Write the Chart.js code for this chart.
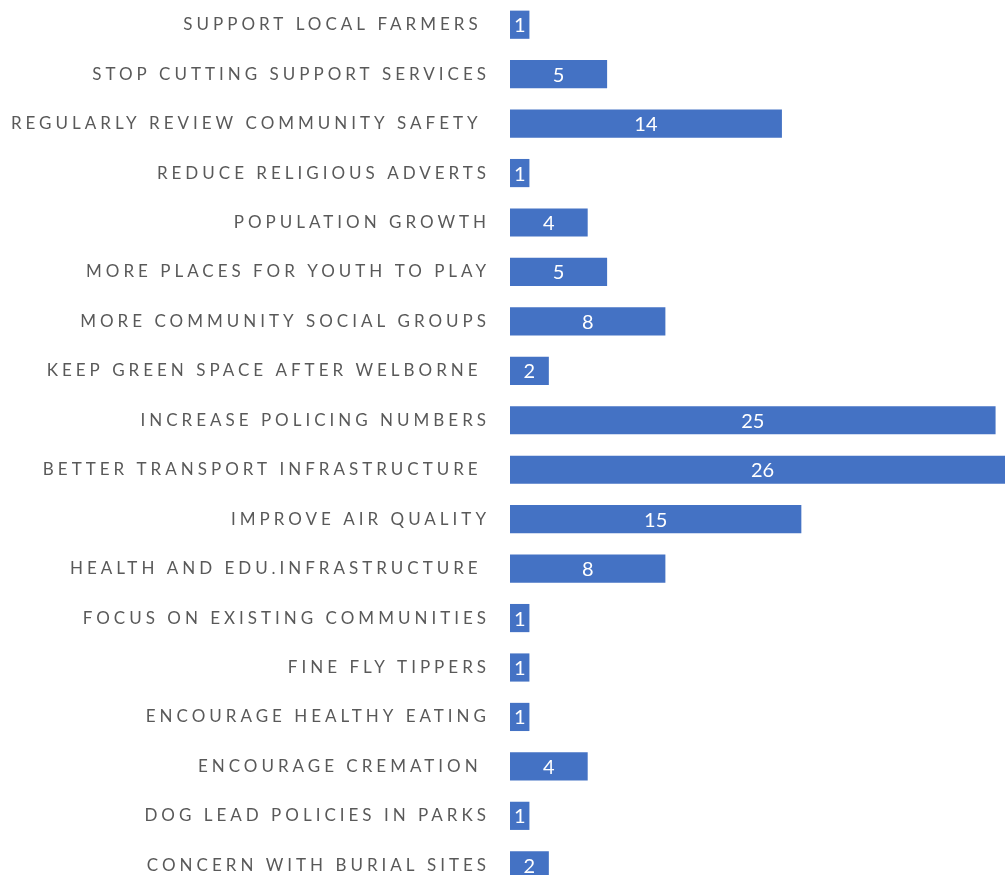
<!DOCTYPE html>
<html>
<head>
<meta charset="utf-8">
<script src="https://cdn.jsdelivr.net/npm/chart.js@4"></script>
<style>
  html, body { margin: 0; padding: 0; background: #fff; overflow: hidden; }
  #wrap { width: 1015px; height: 890px; position: relative; }
</style>
</head>
<body>
<div id="wrap"><canvas id="myChart"></canvas></div>
<script>
// categories top to bottom (trailing spaces kept as in the source sheet)
const categories = [
    "SUPPORT LOCAL FARMERS ",
    "STOP CUTTING SUPPORT SERVICES",
    "REGULARLY REVIEW COMMUNITY SAFETY ",
    "REDUCE RELIGIOUS ADVERTS",
    "POPULATION GROWTH",
    "MORE PLACES FOR YOUTH TO PLAY",
    "MORE COMMUNITY SOCIAL GROUPS",
    "KEEP GREEN SPACE AFTER WELBORNE ",
    "INCREASE POLICING NUMBERS",
    "BETTER TRANSPORT INFRASTRUCTURE ",
    "IMPROVE AIR QUALITY",
    "HEALTH AND EDU.INFRASTRUCTURE ",
    "FOCUS ON EXISTING COMMUNITIES",
    "FINE FLY TIPPERS",
    "ENCOURAGE HEALTHY EATING",
    "ENCOURAGE CREMATION ",
    "DOG LEAD POLICIES IN PARKS",
    "CONCERN WITH BURIAL SITES"
];
const counts = [1, 5, 14, 1, 4, 5, 8, 2, 25, 26, 15, 8, 1, 1, 1, 4, 1, 2];

// spaced-out axis labels, plain value labels inside the bars
const spacedLabels = {
    id: "spacedLabels",
    beforeDraw(chart) {
        chart.ctx.letterSpacing = "4px";
    },
    afterDatasetsDraw(chart) {
        const ctx = chart.ctx;
        const meta = chart.getDatasetMeta(0);
        ctx.save();
        ctx.letterSpacing = "0px";
        ctx.fillStyle = "#ffffff";
        ctx.font = "20px Lato";
        ctx.textAlign = "center";
        ctx.textBaseline = "middle";
        meta.data.forEach((bar, i) => {
            const cx = (bar.x + bar.base) / 2;
            ctx.fillText(String(counts[i]), cx, bar.y + 1);
        });
        ctx.restore();
    }
};

const ctx = document.getElementById("myChart").getContext("2d");
new Chart(ctx, {
    type: "bar",
    data: {
        labels: categories,
        datasets: [{
            data: counts,
            backgroundColor: "#4472c4",
            borderWidth: 0,
            barPercentage: 0.57,
            categoryPercentage: 1
        }]
    },
    options: {
        indexAxis: "y",
        responsive: true,
        maintainAspectRatio: false,
        animation: false,
        layout: { padding: 0 },
        plugins: {
            legend: { display: false },
            tooltip: { enabled: false }
        },
        scales: {
            x: {
                display: false,
                min: 0,
                max: 26
            },
            y: {
                grid: { display: false, drawTicks: false },
                border: { display: false },
                afterFit(scale) {
                    scale.width = 510;
                    scale.paddingTop = 0;
                    scale.paddingBottom = 0;
                },
                ticks: {
                    color: "#595959",
                    padding: 20,
                    font: { family: "Lato", size: 17 }
                }
            }
        }
    },
    plugins: [spacedLabels]
});
</script>
</body>
</html>
